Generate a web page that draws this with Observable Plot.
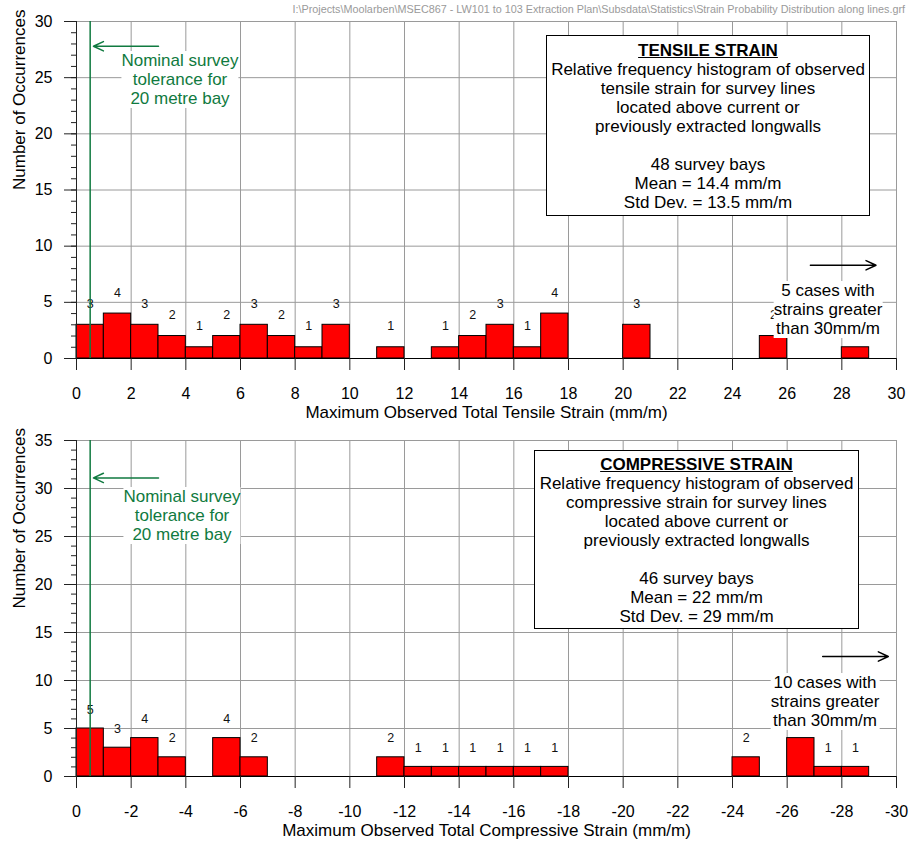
<!DOCTYPE html>
<html><head><meta charset="utf-8">
<script src="https://cdn.jsdelivr.net/npm/d3@7"></script>
<script src="https://cdn.jsdelivr.net/npm/@observablehq/plot@0.6"></script>
<style>
body{margin:0;background:#fff;}
#wrap{position:relative;width:909px;height:841px;font-family:"Liberation Sans",Arial,sans-serif;color:#000;}
#wrap svg{position:absolute;left:0;}
.ov{position:absolute;text-align:center;white-space:nowrap;font-size:17px;line-height:19px;}
.bg{background:#fff;transform:translateX(-50%);}
.box{position:absolute;box-sizing:border-box;border:1px solid #000;background:#fff;text-align:center;white-space:nowrap;font-size:17px;line-height:19px;}
.box b{text-decoration:underline;}
#path{position:absolute;right:4px;top:3px;font-size:10.8px;color:#9a9a9a;white-space:nowrap;}
</style></head><body><div id="wrap"></div>
<script>
// ---------- data ----------
const tensileBinStart = [0,1,2,3,4,5,6,7,8,9,11,13,14,15,16,17,20,25,28];
const tensileCounts   = [3,4,3,2,1,2,3,2,1,3,1,1,2,3,1,4,3,2,1];
const compBinStart    = [0,-1,-2,-3,-5,-6,-11,-12,-13,-14,-15,-16,-17,-24,-26,-27,-28];
const compCounts      = [5,3,4,2,4,2,2,1,1,1,1,1,1,2,4,1,1];
// bins whose count label is covered by the annotation text in the original
const tensileHiddenLabels = [28];
const compHiddenLabels = [-26];
const binWidth = 1;
const tensileXTicks = [0,2,4,6,8,10,12,14,16,18,20,22,24,26,28,30];
const compXTicks    = [0,-2,-4,-6,-8,-10,-12,-14,-16,-18,-20,-22,-24,-26,-28,-30];
const tensileYTicks = [0,5,10,15,20,25,30];
const compYTicks    = [0,5,10,15,20,25,30,35];
const tensileTolerance = 0.5;
const compTolerance = -0.5;
// annotation arrows (data coordinates)
const tensileArrows = [
  {x1:3.0, y1:27.8, x2:0.62, y2:27.8, c:"#107a40"},
  {x1:26.85, y1:8.3, x2:29.25, y2:8.3, c:"#000"}
];
const compArrows = [
  {x1:-3.0, y1:31.1, x2:-0.62, y2:31.1, c:"#107a40"},
  {x1:-27.3, y1:12.5, x2:-29.7, y2:12.5, c:"#000"}
];
const tensileXLabel = "Maximum Observed Total Tensile Strain (mm/m)";
const compXLabel = "Maximum Observed Total Compressive Strain (mm/m)";
const yLabel = "Number of Occurrences";
const filePath = "I:\\Projects\\Moolarben\\MSEC867 - LW101 to 103 Extraction Plan\\Subsdata\\Statistics\\Strain Probability Distribution along lines.grf";

// ---------- chart builder ----------
const GREEN = "#107a40";
function chart({starts, counts, hidden, dir, xDomain, xTicks, yDomain, yTicks, tol, arrows, xLabel, height, mt, mb, labelDy}) {
  const bars = starts.map((s, i) => ({x1: s, x2: s + dir * binWidth, count: counts[i], show: !hidden.includes(s)}));
  const yMinor = d3.range(yDomain[0], yDomain[1] + 1);
  return Plot.plot({
    width: 909, height, marginLeft: 76, marginRight: 13, marginTop: mt, marginBottom: mb,
    style: {fontFamily: "Liberation Sans, Arial, sans-serif", fontSize: "16px", color: "#000", background: "transparent", overflow: "visible"},
    x: {domain: xDomain, label: null},
    y: {domain: yDomain, label: null},
    marks: [
      Plot.gridX(xTicks, {stroke: "#9a9a9a", strokeOpacity: 1}),
      Plot.gridY(yTicks, {stroke: "#9a9a9a", strokeOpacity: 1}),
      Plot.rect(bars, {x1: "x1", x2: "x2", y1: 0, y2: "count", fill: "#ff0000", stroke: "#000", strokeWidth: 1}),
      Plot.text(bars.filter(d => d.show), {x: d => (d.x1 + d.x2) / 2, y: "count", text: d => String(d.count), dy: labelDy, fontSize: 12.5, fill: "#111"}),
      Plot.ruleX([tol], {stroke: GREEN, strokeWidth: 1.5}),
      Plot.arrow(arrows, {x1: "x1", y1: "y1", x2: "x2", y2: "y2", stroke: "c", strokeWidth: 1.5, headLength: 11, headAngle: 50}),
      Plot.ruleY([0], {stroke: "#000", strokeWidth: 1.2}),
      Plot.ruleX([xDomain[0]], {stroke: "#222", strokeWidth: 1}),
      Plot.axisY({ticks: yMinor, tickSize: 5, tickFormat: () => "", label: null, stroke: "#222"}),
      Plot.axisY({ticks: yTicks, tickSize: 12, tickPadding: 12, fontSize: 16, label: null, stroke: "#222", tickFormat: d => String(d)}),
      Plot.axisX({ticks: xTicks, tickSize: 12, tickPadding: 17, fontSize: 16, label: null, stroke: "#222", tickFormat: d => String(d)}),
      Plot.text([xLabel], {frameAnchor: "bottom", dy: 54, lineAnchor: "middle", fontSize: 17}),
      Plot.text([yLabel], {frameAnchor: "left", rotate: -90, dx: -57, lineAnchor: "middle", fontSize: 17})
    ]
  });
}

const wrap = document.getElementById("wrap");
const top1 = chart({starts: tensileBinStart, counts: tensileCounts, hidden: tensileHiddenLabels, dir: 1, xDomain: [0, 30], xTicks: tensileXTicks,
  yDomain: [0, 30], yTicks: tensileYTicks, tol: tensileTolerance, arrows: tensileArrows, xLabel: tensileXLabel,
  height: 430, mt: 21, mb: 72, labelDy: -21});
top1.style.top = "0px";
wrap.appendChild(top1);
const bot = chart({starts: compBinStart, counts: compCounts, hidden: compHiddenLabels, dir: -1, xDomain: [0, -30], xTicks: compXTicks,
  yDomain: [0, 35], yTicks: compYTicks, tol: compTolerance, arrows: compArrows, xLabel: compXLabel,
  height: 411, mt: 10, mb: 65, labelDy: -19});
bot.style.top = "430px";
wrap.appendChild(bot);

// ---------- overlays ----------
function ov(html, cls, css) {
  const d = document.createElement("div");
  d.className = cls; d.innerHTML = html; Object.assign(d.style, css); wrap.appendChild(d); return d;
}
ov(filePath, "", {}).id = "path";
ov("Nominal survey<br>tolerance for<br>20 metre bay", "ov bg", {left: "180px", top: "50.5px", color: GREEN});
ov("Nominal survey<br>tolerance for<br>20 metre bay", "ov bg", {left: "182px", top: "486.5px", color: GREEN});
ov("5 cases with<br>strains greater<br>than 30mm/m", "ov bg", {left: "828px", top: "280.5px"});
ov("10 cases with<br>strains greater<br>than 30mm/m", "ov bg", {left: "825px", top: "672.5px"});
ov("<b>TENSILE STRAIN</b><br>Relative frequency histogram of observed<br>tensile strain for survey lines<br>located above current or<br>previously extracted longwalls<br><br>48 survey bays<br>Mean = 14.4 mm/m<br>Std Dev. = 13.5 mm/m",
   "box", {left: "546px", top: "35px", width: "324px", height: "181px", paddingTop: "5px"});
ov("<b>COMPRESSIVE STRAIN</b><br>Relative frequency histogram of observed<br>compressive strain for survey lines<br>located above current or<br>previously extracted longwalls<br><br>46 survey bays<br>Mean = 22 mm/m<br>Std Dev. = 29 mm/m",
   "box", {left: "534px", top: "450px", width: "325px", height: "179px", paddingTop: "4px"});
</script></body></html>
